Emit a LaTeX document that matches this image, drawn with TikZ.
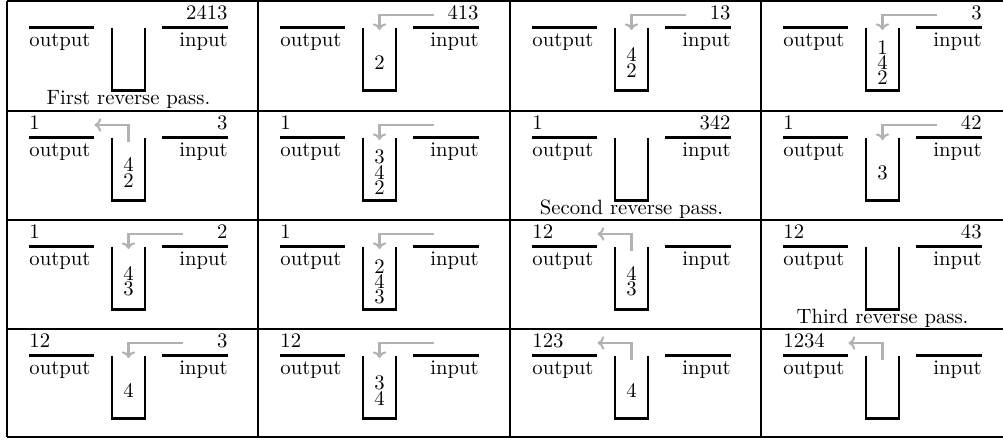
\documentclass[tikz,border=0pt]{standalone}
\usetikzlibrary{arrows.meta}
\definecolor{arrgray}{gray}{0.70}
\newcommand\stackcell[5]{% #1 name, #2 x, #3 y, #4 output text, #5 input text
\begin{scope}[shift={(#2,#3)}]
  \coordinate (#1-ol) at (22,26.5);  \coordinate (#1-or) at (87,26.5);
  \coordinate (#1-il) at (155,26.5); \coordinate (#1-ir) at (221,26.5);
  \coordinate (#1-ul) at (105,26.5); \coordinate (#1-ur) at (138,26.5);
  \coordinate (#1-bl) at (105,89.5); \coordinate (#1-br) at (138,89.5);
  \coordinate (#1-ps) at (176,14);   \coordinate (#1-pt) at (121.5,29);
  \coordinate (#1-qs) at (121.5,31); \coordinate (#1-qt) at (87.5,14);
  \coordinate (#1-st) at (121.5,61.5);
  \draw[pipe] (#1-ol) -- (#1-or);
  \draw[pipe] (#1-il) -- (#1-ir);
  \draw[pipe] (#1-ul) -- (#1-bl) -- (#1-br) -- (#1-ur);
  \node[lbl, anchor=base west] (#1-out) at (22,18.5) {#4};
  \node[lbl, anchor=base east] (#1-in) at (221,18.5) {#5};
  \node[lbl, anchor=base west] (#1-ot) at (22,45) {output};
  \node[lbl, anchor=base east] (#1-it) at (221,45) {input};
\end{scope}}
\newcommand\stackitems[2]{%
  \foreach \d [count=\k] in {#2} {\xdef\stackn{\k}}%
  \foreach \d [count=\k] in {#2} {%
    \path (#1-st) ++(0,{(\k-1-(\stackn-1)/2)*15.2}) node[lbl, anchor=center] (#1-s\k) {\d};}}
\newcommand\pusharrow[1]{\draw[garrow] (#1-ps) -| (#1-pt);}
\newcommand\poparrow[1]{\draw[garrow] (#1-qs) |- (#1-qt);}
\newcommand\passcaption[2]{\path (#1-bl) ++(16.5,13.5) node[lbl, anchor=base] (#1-cap) {#2};}
\begin{document}
\begin{tikzpicture}[x=0.4831pt, y=-0.4831pt,
  pipe/.style={line width=1.2pt},
  gridline/.style={line width=1pt},
  lbl/.style={inner sep=0pt, font=\fontsize{10}{12}\selectfont},
  garrow/.style={draw=arrgray, line width=1pt, -{To[length=3.2pt,width=6.5pt]}}]
\useasboundingbox (0,0) rectangle (1003,439);
% table grid
\foreach \yy in {1,111,220,329,437} \draw[gridline] (7,\yy) -- (1003,\yy);
\foreach \xx in {7,258,510,761} \draw[gridline] (\xx,1) -- (\xx,437);
% row 1
\stackcell{c1}{7}{1}{}{2413}
\stackcell{c2}{258}{1}{}{413}
\stackcell{c3}{510}{1}{}{13}
\stackcell{c4}{761}{1}{}{3}
\stackitems{c2}{2}
\stackitems{c3}{4,2}
\stackitems{c4}{1,4,2}
\passcaption{c1}{First reverse pass.}
\pusharrow{c2}\pusharrow{c3}\pusharrow{c4}
% row 2
\stackcell{c5}{7}{111}{1}{3}
\stackcell{c6}{258}{111}{1}{}
\stackcell{c7}{510}{111}{1}{342}
\stackcell{c8}{761}{111}{1}{42}
\stackitems{c5}{4,2}
\stackitems{c6}{3,4,2}
\stackitems{c8}{3}
\poparrow{c5}\pusharrow{c6}\pusharrow{c8}
\passcaption{c7}{Second reverse pass.}
% row 3
\stackcell{c9}{7}{220}{1}{2}
\stackcell{c10}{258}{220}{1}{}
\stackcell{c11}{510}{220}{12}{}
\stackcell{c12}{761}{220}{12}{43}
\stackitems{c9}{4,3}
\stackitems{c10}{2,4,3}
\stackitems{c11}{4,3}
\pusharrow{c9}\pusharrow{c10}\poparrow{c11}
\passcaption{c12}{Third reverse pass.}
% row 4
\stackcell{c13}{7}{329}{12}{3}
\stackcell{c14}{258}{329}{12}{}
\stackcell{c15}{510}{329}{123}{}
\stackcell{c16}{761}{329}{1234}{}
\stackitems{c13}{4}
\stackitems{c14}{3,4}
\stackitems{c15}{4}
\pusharrow{c13}\pusharrow{c14}\poparrow{c15}\poparrow{c16}
\end{tikzpicture}
\end{document}
